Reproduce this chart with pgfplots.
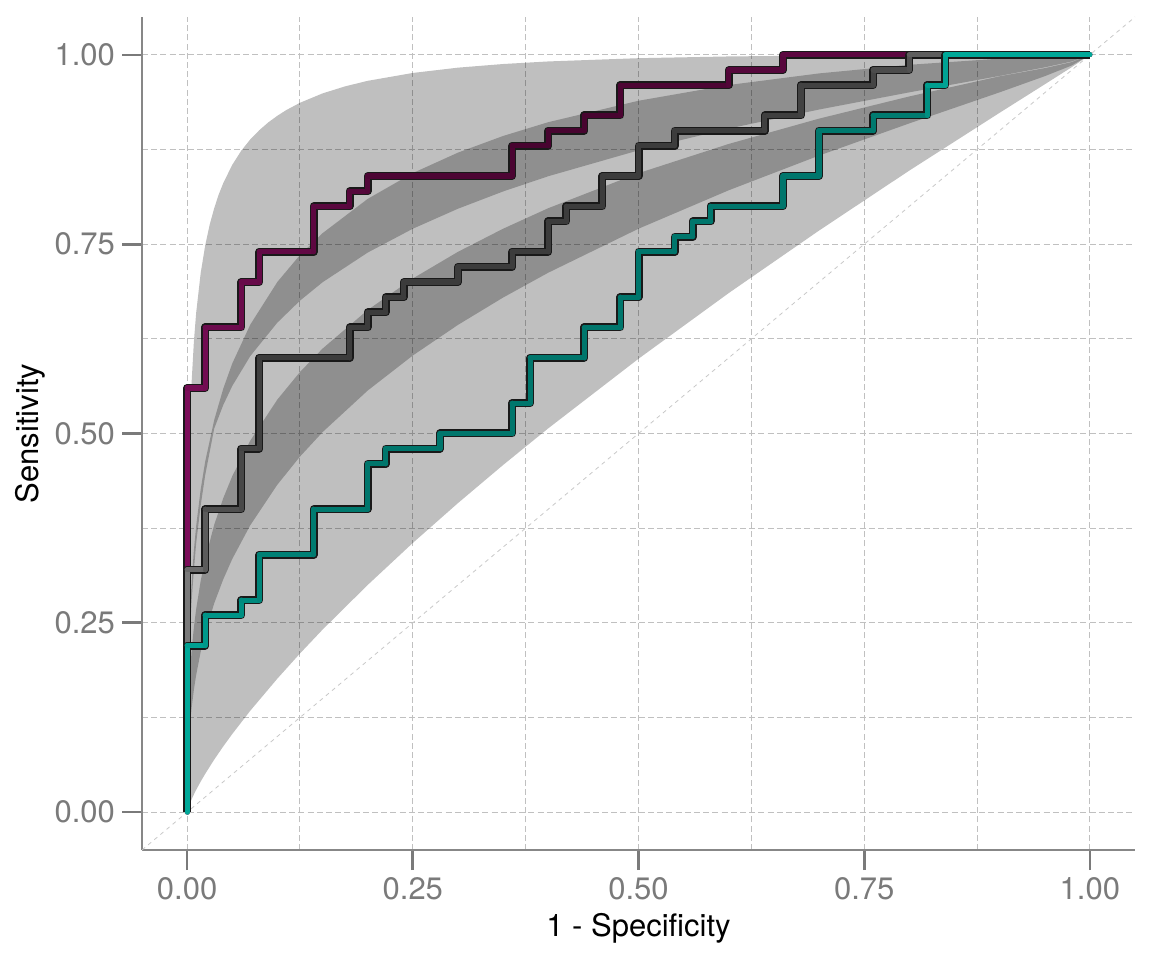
\documentclass[border=0pt]{standalone}
\usepackage{fontspec}
\setmainfont{TeX Gyre Heros}
\usepackage{pgfplots}
\usepackage{pgfplotstable}
\usepgfplotslibrary{fillbetween}
\pgfplotsset{compat=1.18}
\definecolor{axgray}{RGB}{135,135,135}
\definecolor{tkgray}{RGB}{122,122,122}
\definecolor{grd}{RGB}{192,192,192}
\definecolor{diag}{RGB}{200,200,200}
\pgfplotsset{
 colormap={magmap}{rgb255=(72,4,48) rgb255=(124,14,90)},
 colormap={graymap}{rgb255=(60,60,60) rgb255=(122,122,122)},
 colormap={tealmap}{rgb255=(0,118,108) rgb255=(0,168,152)},
 every non boxed x axis/.append style={x axis line style=-},
 every non boxed y axis/.append style={y axis line style=-},
}
% band boundary curves
\pgfplotstableread{
x y
0 0
0.0005 0.3064
0.001 0.3762
0.002 0.4546
0.003 0.5038
0.005 0.5686
0.0075 0.6216
0.01 0.6592
0.015 0.7117
0.02 0.7483
0.025 0.7758
0.03 0.7976
0.035 0.8156
0.04 0.8306
0.05 0.8548
0.06 0.8735
0.07 0.8884
0.08 0.9006
0.09 0.9109
0.1 0.9196
0.11 0.9272
0.125 0.9367
0.15 0.9491
0.175 0.9584
0.2 0.9657
0.25 0.9761
0.3 0.9831
0.35 0.9879
0.4 0.9913
0.5 0.9956
0.6 0.9979
0.7 0.9991
0.8 0.9997
1 1
}\Tone
\pgfplotstableread{
x y
0 0
0.0005 0.1394
0.001 0.1783
0.002 0.2260
0.003 0.2585
0.005 0.3047
0.0075 0.3461
0.01 0.3779
0.015 0.4262
0.02 0.4630
0.03 0.5179
0.04 0.5592
0.05 0.5925
0.07 0.6439
0.1 0.7002
0.125 0.7357
0.15 0.7645
0.2 0.8098
0.25 0.8439
0.3 0.8709
0.35 0.8929
0.4 0.9111
0.5 0.9394
0.6 0.9602
0.7 0.9755
0.8 0.9869
0.9 0.9950
0.95 0.9979
1 1
}\Ctwo
\pgfplotstableread{
x y
0 0
0.0005 0.125
0.001 0.16
0.002 0.205
0.003 0.235
0.005 0.28
0.0075 0.32
0.01 0.355
0.015 0.405
0.02 0.445
0.03 0.5065
0.04 0.5376
0.05 0.5628
0.07 0.6023
0.1 0.6465
0.125 0.6754
0.15 0.6997
0.2 0.7389
0.25 0.7704
0.3 0.7968
0.35 0.8196
0.4 0.8397
0.5 0.8739
0.6 0.9027
0.7 0.9278
0.8 0.9505
0.9 0.9722
0.95 0.9835
0.98 0.9913
1 1
}\Cthree
\pgfplotstableread{
x y
0 0
0.0005 0.0979
0.001 0.1245
0.002 0.1575
0.003 0.1805
0.005 0.2138
0.0075 0.2443
0.01 0.2682
0.015 0.3054
0.02 0.3344
0.03 0.3795
0.04 0.4146
0.05 0.4437
0.07 0.4907
0.1 0.5449
0.125 0.5812
0.15 0.6121
0.2 0.6631
0.25 0.7047
0.3 0.7399
0.35 0.7704
0.4 0.7975
0.5 0.8438
0.6 0.8824
0.7 0.9158
0.8 0.9451
0.9 0.9717
0.95 0.9825
0.98 0.9905
1 1
}\Cfour
\pgfplotstableread{
x y
0 0
0.0005 0.0552
0.001 0.0730
0.002 0.0962
0.003 0.1129
0.005 0.1381
0.0075 0.1619
0.01 0.1810
0.015 0.2117
0.02 0.2363
0.03 0.2758
0.04 0.3074
0.05 0.3343
0.07 0.3790
0.1 0.4325
0.125 0.4695
0.15 0.5018
0.2 0.5567
0.25 0.6030
0.3 0.6434
0.35 0.6795
0.4 0.7123
0.5 0.7704
0.6 0.8212
0.7 0.8670
0.8 0.9095
0.9 0.9505
0.95 0.9718
0.98 0.9860
1 1
}\Cfive
\pgfplotstableread{
x y
0 0
0.0005 0.0027
0.001 0.0048
0.002 0.0082
0.003 0.0114
0.005 0.0170
0.0075 0.0234
0.01 0.0294
0.015 0.0404
0.02 0.0505
0.03 0.0694
0.04 0.0868
0.05 0.1032
0.07 0.1340
0.1 0.1764
0.125 0.2095
0.15 0.2410
0.2 0.3000
0.25 0.3555
0.3 0.4081
0.35 0.4584
0.4 0.5068
0.5 0.5987
0.6 0.6855
0.7 0.7680
0.8 0.8472
0.9 0.9235
0.95 0.9611
0.98 0.9838
1 1
}\Tsix
% ROC step curves: x y colour-level
\pgfplotstableread{
x y c
0 0 1
0 0.56 0.85
0.02 0.56 0.8
0.02 0.64 0.7
0.06 0.64 0.65
0.06 0.70 0.6
0.08 0.70 0.55
0.08 0.74 0.5
0.14 0.74 0.4
0.14 0.80 0.35
0.18 0.80 0.3
0.18 0.82 0.25
0.20 0.82 0.2
0.20 0.84 0.1
0.36 0.84 0.05
0.36 0.88 0
0.40 0.88 0
0.40 0.90 0
0.44 0.90 0
0.44 0.92 0
0.48 0.92 0.05
0.48 0.96 0.1
0.60 0.96 0.2
0.60 0.98 0.25
0.66 0.98 0.3
0.66 1.00 0.4
1.00 1.00 0.4
}\rocA
\pgfplotstableread{
x y c
0 0 1
0 0.32 0.75
0.02 0.32 0.5
0.02 0.40 0.3
0.06 0.40 0.2
0.06 0.48 0.1
0.08 0.48 0.05
0.08 0.60 0
0.18 0.60 0
0.18 0.64 0
0.20 0.64 0
0.20 0.66 0
0.22 0.66 0
0.22 0.68 0
0.24 0.68 0
0.24 0.70 0
0.30 0.70 0
0.30 0.72 0
0.36 0.72 0
0.36 0.74 0
0.40 0.74 0
0.40 0.78 0
0.42 0.78 0
0.42 0.80 0
0.46 0.80 0
0.46 0.84 0
0.50 0.84 0
0.50 0.88 0
0.54 0.88 0
0.54 0.90 0
0.64 0.90 0.05
0.64 0.92 0.05
0.68 0.92 0.1
0.68 0.96 0.1
0.76 0.96 0.15
0.76 0.98 0.25
0.80 0.98 0.35
0.80 1.00 0.55
1.00 1.00 0.55
}\rocB
\pgfplotstableread{
x y c
0 0 1
0 0.22 0.85
0.02 0.22 0.7
0.02 0.26 0.6
0.06 0.26 0.5
0.06 0.28 0.4
0.08 0.28 0.3
0.08 0.34 0.2
0.14 0.34 0.1
0.14 0.40 0.05
0.20 0.40 0
0.20 0.46 0
0.22 0.46 0
0.22 0.48 0
0.28 0.48 0
0.28 0.50 0
0.36 0.50 0
0.36 0.54 0
0.38 0.54 0
0.38 0.60 0
0.44 0.60 0
0.44 0.64 0
0.48 0.64 0
0.48 0.68 0
0.50 0.68 0
0.50 0.74 0
0.54 0.74 0
0.54 0.76 0
0.56 0.76 0
0.56 0.78 0
0.58 0.78 0
0.58 0.80 0
0.66 0.80 0
0.66 0.84 0
0.70 0.84 0
0.70 0.90 0.05
0.76 0.90 0.05
0.76 0.92 0.1
0.82 0.92 0.5
0.82 0.96 0.8
0.84 0.96 0.9
0.84 1.00 1
1.00 1.00 1
}\rocC
\begin{document}
\begin{tikzpicture}
\begin{axis}[
  scale only axis, width=496.5pt, height=416.5pt,
  at={(71pt,55pt)}, anchor=south west,
  xmin=-0.05, xmax=1.05, ymin=-0.05, ymax=1.05,
  axis lines=left,
  axis line style={draw=axgray, line width=0.55pt},
  xtick={0,0.25,0.5,0.75,1}, ytick={0,0.25,0.5,0.75,1},
  minor xtick={0.125,0.375,0.625,0.875}, minor ytick={0.125,0.375,0.625,0.875},
  grid=both,
  major grid style={draw=grd, line width=0.5pt, dash pattern=on 3pt off 1.6pt},
  minor grid style={draw=grd, line width=0.5pt, dash pattern=on 3pt off 1.6pt},
  tick align=outside, major tick length=10pt, minor tick length=0pt,
  major tick style={draw=tkgray, line width=1.35pt},
  minor tick style={draw=none},
  /pgf/number format/fixed, /pgf/number format/fixed zerofill,
  /pgf/number format/precision=2, /pgf/number format/assume math mode=true,
  tick label style={font=\fontsize{15.5pt}{18pt}\selectfont, text=tkgray},
  label style={font=\fontsize{15.5pt}{18pt}\selectfont, text=black},
  xlabel={1 - Specificity}, ylabel={Sensitivity},
  xlabel style={at={(axis description cs:0.5,-0.0936)}, anchor=center},
  ylabel style={at={(axis description cs:-0.1128,0.5)}, anchor=center},
]
\addplot[diag, line width=0.4pt, dash pattern=on 2pt off 2pt] coordinates {(-0.05,-0.05) (1.05,1.05)};
\addplot[name path=T1, draw=none] table[x=x,y=y] {\Tone};
\addplot[name path=C2, draw=none] table[x=x,y=y] {\Ctwo};
\addplot[name path=C3, draw=none] table[x=x,y=y] {\Cthree};
\addplot[name path=C4, draw=none] table[x=x,y=y] {\Cfour};
\addplot[name path=C5, draw=none] table[x=x,y=y] {\Cfive};
\addplot[name path=T6, draw=none] table[x=x,y=y] {\Tsix};
\addplot[fill=black, fill opacity=0.25, draw=none] fill between[of=T1 and C3];
\addplot[fill=black, fill opacity=0.25, draw=none] fill between[of=C2 and C5];
\addplot[fill=black, fill opacity=0.25, draw=none] fill between[of=C4 and T6];
% magenta
\addplot[black!90, line width=4pt, line join=round] table[x=x,y=y] {\rocA};
\addplot[mesh, shader=flat corner, colormap name=magmap, point meta=explicit, point meta min=0, point meta max=1, line width=2.6pt, line cap=round] table[x=x,y=y,meta=c] {\rocA};
% gray
\addplot[black!90, line width=4pt, line join=round] table[x=x,y=y] {\rocB};
\addplot[mesh, shader=flat corner, colormap name=graymap, point meta=explicit, point meta min=0, point meta max=1, line width=2.6pt, line cap=round] table[x=x,y=y,meta=c] {\rocB};
% teal
\addplot[black!90, line width=4pt, line join=round] table[x=x,y=y] {\rocC};
\addplot[mesh, shader=flat corner, colormap name=tealmap, point meta=explicit, point meta min=0, point meta max=1, line width=2.6pt, line cap=round] table[x=x,y=y,meta=c] {\rocC};
\end{axis}
\path[use as bounding box] (0,0) rectangle (576pt,480pt);
\end{tikzpicture}
\end{document}
